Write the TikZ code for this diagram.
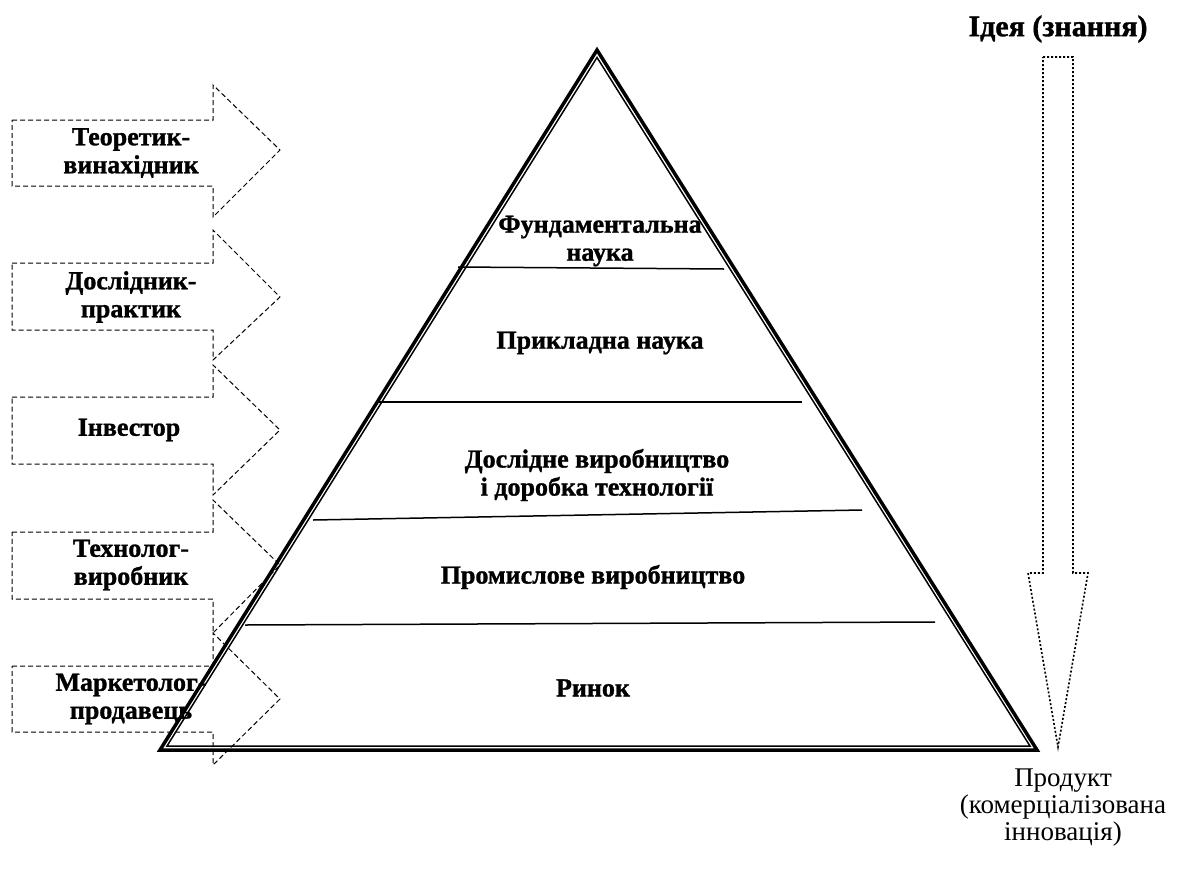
\documentclass[tikz,border=0pt]{standalone}
\usepackage{fontspec}
\setmainfont{Liberation Serif}[BoldFeatures={FakeBold=1.2}]
\usetikzlibrary{positioning}

\begin{document}
\begin{tikzpicture}[x=0.5pt,y=-0.5pt,
  level text/.style={font=\fontsize{13}{14}\selectfont\bfseries,align=center,inner sep=0pt},
  role text/.style={font=\fontsize{13}{14}\selectfont\bfseries,align=center,inner sep=0pt},
  role arrow/.style={draw,line width=0.5pt,dash pattern=on 2.5pt off 1.5pt},
  flow arrow/.style={draw,line width=0.8pt,dash pattern=on 1pt off 1pt},
  level line/.style={draw,line width=0.75pt}]

  \useasboundingbox (0,0) rectangle (1177,873);

  % roles on the left
  \draw[role arrow] (12,120) -- (213,120) -- (213,85) -- (280,150) -- (213,217) -- (213,186) -- (12,186) -- cycle;
  \draw[role arrow] (12,263) -- (213,263) -- (213,230) -- (280,297) -- (213,360) -- (213,330) -- (12,330) -- cycle;
  \draw[role arrow] (12,397) -- (213,397) -- (213,365) -- (280,430) -- (213,495) -- (213,464) -- (12,464) -- cycle;
  \draw[role arrow] (12,532) -- (213,532) -- (213,500) -- (280,565) -- (213,633) -- (213,599) -- (12,599) -- cycle;
  \draw[role arrow] (12,666) -- (213,666) -- (213,633) -- (280,699) -- (213,765) -- (213,732) -- (12,732) -- cycle;

  \node[role text] (theorist) at (131,153) {Теоретик-\\винахідник};
  \node[role text] (researcher) at (131,297) {Дослідник-\\практик};
  \node[role text] (investor) at (129,430) {Інвестор};
  \node[role text] (technologist) at (131,565) {Технолог-\\виробник};
  \node[role text] (marketer) at (131,699) {Маркетолог-\\продавець};

  % pyramid
  \coordinate (left) at (160,750);
  \coordinate (top) at (597,50);
  \coordinate (right) at (1037,750);
  \coordinate (left in) at (167,746);
  \coordinate (top in) at (597,57.5);
  \coordinate (right in) at (1030,746);

  \draw[line width=1.75pt,line join=miter] (left) -- (top) -- (right) -- cycle;
  \draw[line width=0.75pt,line join=miter] (left in) -- (top in) -- (right in) -- cycle;

  \draw[level line] (458,267) -- (724,269);
  \draw[level line] (377,402) -- (802,402);
  \draw[level line] (313,520) -- (862,510);
  \draw[level line] (245,625) -- (935,622);

  \node[level text] (science) at (600,241) {Фундаментальна\\наука};
  \node[level text] (applied) at (600,343) {Прикладна наука};
  \node[level text] (pilot) at (597,475) {Дослідне виробництво\\і доробка технології};
  \node[level text] (industry) at (593,577) {Промислове виробництво};
  \node[level text] (market) at (593,688) {Ринок};

  % idea to product
  \draw[flow arrow] (1043,57) -- (1073,57) -- (1073,573) -- (1088,573) -- (1058,747) -- (1028,573) -- (1043,573) -- cycle;

  \node[font=\fontsize{15}{16}\selectfont\bfseries,inner sep=0pt] (idea) at (1058,29) {Ідея (знання)};
  \node[font=\fontsize{13.5}{13.5}\selectfont,align=center,inner sep=0pt] (product) at (1063,808) {Продукт\\(комерціалізована\\інновація)};
\end{tikzpicture}
\end{document}
